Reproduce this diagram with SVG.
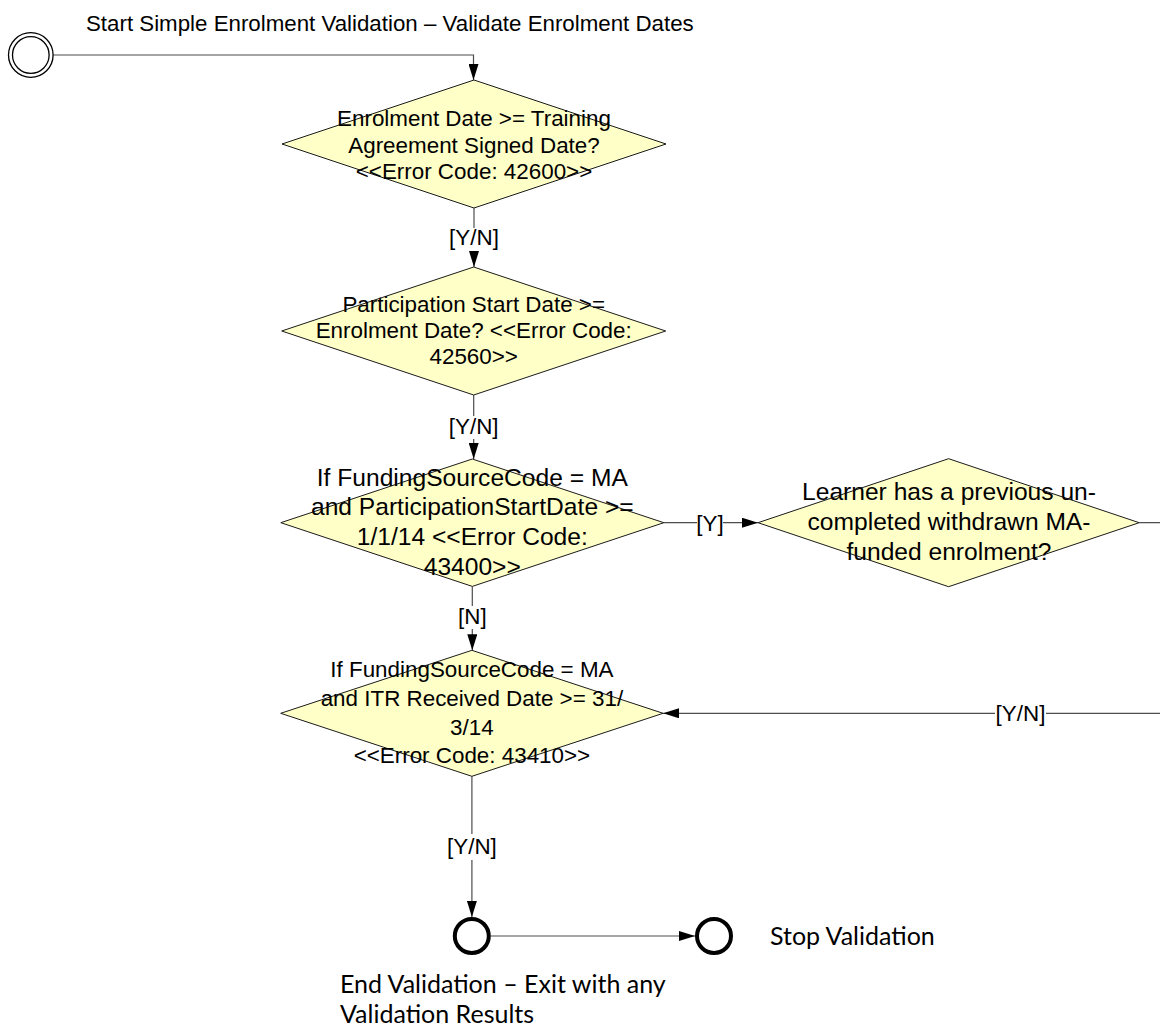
<svg xmlns="http://www.w3.org/2000/svg" width="1160" height="1028" viewBox="0 0 1160 1028">
  <style>
    .dia { fill: #FFFFC8; stroke: #1a1a1a; stroke-width: 1; }
    .t { font-family: "Liberation Sans", Arial, sans-serif; font-size: 22.4px; fill: #000; text-anchor: middle; }
    .tb { font-family: "Liberation Sans", Arial, sans-serif; font-size: 24.6px; fill: #000; text-anchor: middle; }
    .title { font-family: "Liberation Sans", Arial, sans-serif; font-size: 22.3px; fill: #000; }
    .lbl { font-family: "Liberation Sans", Arial, sans-serif; font-size: 22.4px; fill: #000; text-anchor: middle; }
    .cal { font-family: Lato, "Open Sans", sans-serif; font-size: 25px; fill: #000; }
    .con { fill: none; stroke: #4d4d4d; stroke-width: 1.2; }
    .bg { fill: #ffffff; }
    .ring { fill: #ffffff; stroke: #000; stroke-width: 1.3; }
    .endc { fill: #ffffff; stroke: #000; stroke-width: 4; }
  </style>
  <defs>
    <marker id="arr" viewBox="0 0 16 10" refX="16" refY="5" markerWidth="16" markerHeight="10" orient="auto" markerUnits="userSpaceOnUse">
      <path d="M0,0 L16,5 L0,10 z" fill="#000"/>
    </marker>
  </defs>
  <rect x="0" y="0" width="1160" height="1028" fill="#ffffff"/>

  <g id="connectors">
    <path class="con" d="M53.3,55 H473.5 V80" marker-end="url(#arr)"/>
    <path class="con" d="M474,208 V267" marker-end="url(#arr)"/>
    <path class="con" d="M473.7,395 V459" marker-end="url(#arr)"/>
    <path class="con" d="M472.3,586.4 V650.3" marker-end="url(#arr)"/>
    <path class="con" d="M663.8,522.7 H758" marker-end="url(#arr)"/>
    <path class="con" d="M1139.2,522.7 H1180 V713.3 H663.1" marker-end="url(#arr)"/>
    <path class="con" d="M471.9,776.3 V917" marker-end="url(#arr)"/>
    <path class="con" d="M491,936 H695" marker-end="url(#arr)"/>

    <g id="label-yn-1">
      <rect class="bg" x="446" y="228" width="56" height="23"/>
      <text class="lbl" x="474" y="245">[Y/N]</text>
    </g>
    <g id="label-yn-2">
      <rect class="bg" x="446" y="416" width="56" height="23"/>
      <text class="lbl" x="473.7" y="433.5">[Y/N]</text>
    </g>
    <g id="label-n">
      <rect class="bg" x="455" y="606" width="35" height="23"/>
      <text class="lbl" x="472.3" y="624">[N]</text>
    </g>
    <g id="label-y">
      <rect class="bg" x="697" y="511" width="26" height="23"/>
      <text class="lbl" x="710" y="530.5">[Y]</text>
    </g>
    <g id="label-yn-3">
      <rect class="bg" x="995" y="701" width="51" height="23"/>
      <text class="lbl" x="1020.5" y="721">[Y/N]</text>
    </g>
    <g id="label-yn-4">
      <rect class="bg" x="444" y="834" width="56" height="26"/>
      <text class="lbl" x="471.9" y="853.5">[Y/N]</text>
    </g>
  </g>

  <g id="start">
    <circle class="ring" cx="30.8" cy="55" r="22.3"/>
    <circle class="ring" cx="30.8" cy="55" r="18.3"/>
    <text class="title" x="86" y="31">Start Simple Enrolment Validation – Validate Enrolment Dates</text>
  </g>

  <g id="d1">
    <polygon class="dia" points="474,80 666,144 474,208 282,144"/>
    <text class="t" x="474" y="125.7">Enrolment Date &gt;= Training</text>
    <text class="t" x="474" y="152.7">Agreement Signed Date?</text>
    <text class="t" x="474" y="179.2">&lt;&lt;Error Code: 42600&gt;&gt;</text>
  </g>

  <g id="d2">
    <polygon class="dia" points="473.7,267 665.7,331 473.7,395 281.7,331"/>
    <text class="t" x="473.7" y="311.7">Participation Start Date &gt;=</text>
    <text class="t" x="473.7" y="337.5">Enrolment Date? &lt;&lt;Error Code:</text>
    <text class="t" x="473.7" y="363.8">42560&gt;&gt;</text>
  </g>

  <g id="d3">
    <polygon class="dia" points="472.3,459 663.8,522.7 472.3,586.4 280.8,522.7"/>
    <text class="tb" x="472.3" y="485.5">If FundingSourceCode = MA</text>
    <text class="tb" x="472.3" y="515.2">and ParticipationStartDate &gt;=</text>
    <text class="tb" x="472.3" y="544.9">1/1/14 &lt;&lt;Error Code:</text>
    <text class="tb" x="472.3" y="574.6">43400&gt;&gt;</text>
  </g>

  <g id="d4">
    <polygon class="dia" points="948.6,458.7 1139.2,522.7 948.6,586.7 758,522.7"/>
    <text class="tb" x="949" y="500">Learner has a previous un-</text>
    <text class="tb" x="949" y="530">completed withdrawn MA-</text>
    <text class="tb" x="949" y="560">funded enrolment?</text>
  </g>

  <g id="d5">
    <polygon class="dia" points="471.9,650.3 663.1,713.3 471.9,776.3 280.7,713.3"/>
    <text class="t" x="471.9" y="676.8">If FundingSourceCode = MA</text>
    <text class="t" x="471.9" y="705.8">and ITR Received Date &gt;= 31/</text>
    <text class="t" x="471.9" y="734.8">3/14</text>
    <text class="t" x="471.9" y="762.8">&lt;&lt;Error Code: 43410&gt;&gt;</text>
  </g>

  <g id="end">
    <circle class="endc" cx="471.8" cy="936" r="17"/>
    <text class="cal" x="340" y="992.5">End Validation – Exit with any</text>
    <text class="cal" x="340" y="1023">Validation Results</text>
  </g>

  <g id="stop">
    <circle class="endc" cx="714" cy="936" r="17"/>
    <text class="cal" x="770" y="944.5">Stop Validation</text>
  </g>
</svg>
